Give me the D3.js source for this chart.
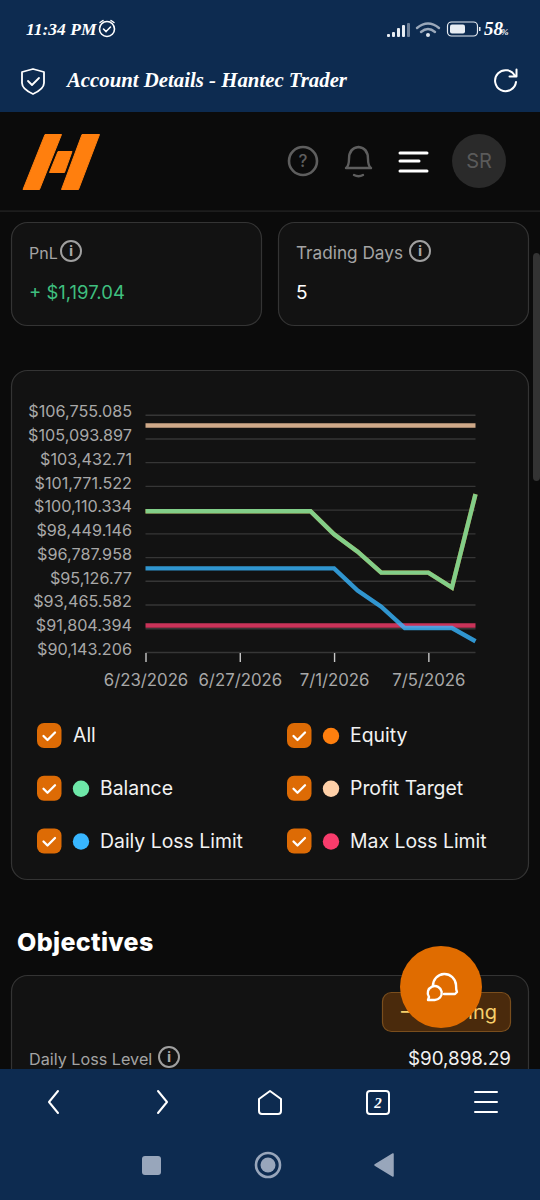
<!DOCTYPE html>
<html><head><meta charset="utf-8">
<script src="https://cdn.jsdelivr.net/npm/d3@7/dist/d3.min.js"></script>
<style>
html,body{margin:0;padding:0;background:#0b0b0b;width:540px;height:1200px;overflow:hidden}
svg{display:block}
text{font-family:"Inter","Noto Sans",sans-serif}
.script{font-family:"Liberation Serif",serif;font-style:italic;font-weight:700}
</style></head><body>
<svg id="page" width="540" height="1200" viewBox="0 0 540 1200"></svg>
<script>
const dates = ["2026-06-23","2026-06-24","2026-06-25","2026-06-26","2026-06-27","2026-06-28","2026-06-29","2026-06-30","2026-07-01","2026-07-02","2026-07-03","2026-07-04","2026-07-05","2026-07-06","2026-07-07"];
const equity = [100000,100000,100000,100000,100000,100000,100000,100000,98380,97170,95700,95700,95700,94650,101197.04];
const balance = [100000,100000,100000,100000,100000,100000,100000,100000,98380,97170,95700,95700,95700,94650,101197.04];
const dailyLossLimit = [96000,96000,96000,96000,96000,96000,96000,96000,96000,94440,93320,91820,91820,91820,90898.29];
const maxLossLimit = [92000,92000,92000,92000,92000,92000,92000,92000,92000,92000,92000,92000,92000,92000,92000];
const profitTarget = [106000,106000,106000,106000,106000,106000,106000,106000,106000,106000,106000,106000,106000,106000,106000];
const yTickValues = [90143.206,91804.394,93465.582,95126.77,96787.958,98449.146,100110.334,101771.522,103432.71,105093.897,106755.085];
const yTickLabels = ["$90,143.206","$91,804.394","$93,465.582","$95,126.77","$96,787.958","$98,449.146","$100,110.334","$101,771.522","$103,432.71","$105,093.897","$106,755.085"];
const xTickDates = ["2026-06-23","2026-06-27","2026-07-01","2026-07-05"];
const xTickLabels = ["6/23/2026","6/27/2026","7/1/2026","7/5/2026"];
const legendNames = ["All","Equity","Balance","Profit Target","Daily Loss Limit","Max Loss Limit"];
const legendColors = [null,"#ff7f0e","#6ee7a8","#ffd0a8","#38b6ff","#f83c6c"];

const svg = d3.select("#page");
const navy = "#0d2b50", cardFill = "#121212", cardLine = "#343434";
const W = "#ffffff";
function rect(x,y,w,h,fill,rx,stroke){const r=svg.append("rect").attr("x",x).attr("y",y).attr("width",w).attr("height",h).attr("fill",fill).attr("rx",rx||0);if(stroke)r.attr("stroke",stroke).attr("stroke-width",1.2);return r;}
function txt(x,y,s,size,fill,o={}){const t=svg.append("text").attr("x",x).attr("y",y).attr("font-size",size).attr("fill",fill).attr("text-anchor",o.anchor||"start").attr("font-weight",o.weight||400).text(s);if(o.cls)t.attr("class",o.cls);if(o.ls)t.attr("letter-spacing",o.ls);return t;}
function icon(d,stroke,sw,fill){return svg.append("path").attr("d",d).attr("fill",fill||"none").attr("stroke",stroke).attr("stroke-width",sw).attr("stroke-linecap","round").attr("stroke-linejoin","round");}
function circ(cx,cy,r,fill,stroke,sw){return svg.append("circle").attr("cx",cx).attr("cy",cy).attr("r",r).attr("fill",fill).attr("stroke",stroke||"none").attr("stroke-width",sw||0);}
function info(cx,cy){circ(cx,cy,10,"none","#a0a0a0",2);txt(cx,cy+5,"i",13,"#a8a8a8",{anchor:"middle",weight:800});}

// top app bar
rect(0,0,540,112,navy);
txt(26,35,"11:34 PM",17.5,W,{cls:"script"});
circ(107,29,7.5,"none",W,1.6);
icon("M103.5,29l2.6,2.6l4.4,-4.6M100,22.5l3,-2M114,22.5l-3,-2",W,1.5);
[[387,34,3],[392,32,5],[397,28,9],[402,25,12]].forEach(b=>rect(b[0],b[1],3,b[2],"#e8edf3",1));
rect(407,23,3,14,"#6d7f97",1);
icon("M417,28q11,-9 22,0M421,32q7,-6 14,0","#9aa8ba",2.4);
circ(428,35,2,"#dfe5ec");
rect(447.5,22,30,14,"none",4,"#e8edf3");
rect(450,24.5,15,9,"#e8edf3",2);
rect(479,27,1.5,4,"#e8edf3");
txt(484,35,"58",19,W,{cls:"script"});
txt(501,35,"%",9,W,{cls:"script"});
icon("M33,69l11,3v11q0,6 -11,11q-11,-5 -11,-11v-11z",W,1.8);
icon("M28,81l4,4l7,-7",W,1.8);
txt(67,87,"Account Details - Hantec Trader",20.8,W,{cls:"script"});
icon("M515,76a10.5,10.5 0 1 0 1,6M516.5,69.5v7h-7",W,2);

// site header
svg.append("path").attr("fill","#ff7f0e").attr("stroke","#ff7f0e").attr("stroke-width",1).attr("stroke-linejoin","round")
  .attr("d","M45,134.5h16.5l-22,55h-16.5zM82,134.5h17.5l-21,55h-17zM58,151.5h14l-7.5,21h-15z");
circ(303,161,14,"none","#5e5e5e",2.6);
txt(303,167,"?",17,"#5e5e5e",{anchor:"middle",weight:500});
icon("M346,168q3,-2 3,-9q0,-11 9.5,-12q9.5,1 9.5,12q0,7 3,9zM354,175q4.5,2.5 9,0","#5e5e5e",2.4);
icon("M400,153h27M400,161h19M400,171h27",W,3);
circ(479,161,27,"#2a2a2a");
txt(479,168,"SR",20,"#5a5a5a",{anchor:"middle"});
rect(0,210.5,540,1.2,"#262626");

// stat cards
rect(11.5,222.5,250,103,cardFill,16,cardLine);
rect(278.5,222.5,250,103,cardFill,16,cardLine);
txt(29,259,"PnL",16,"#a4a4a4");
info(71,251);
txt(29,299,"+ $1,197.04",18.5,"#3fbf7f");
txt(296,259,"Trading Days",17.2,"#a4a4a4");
info(420,251);
txt(296,299,"5",19,W);
rect(533,253,7,228,"#333333",4);

// chart card
rect(11.5,370.5,517,509,cardFill,16,cardLine);

const parse = d3.utcParse("%Y-%m-%d");
const x = d3.scaleUtc().domain([parse(dates[0]),parse(dates[dates.length-1])]).range([145.5,475.5]);
const y = d3.scaleLinear().domain([yTickValues[0],yTickValues[yTickValues.length-1]]).range([652,414.7]);

const yAxis = d3.axisLeft(y).tickValues(yTickValues).tickSize(0).tickPadding(13.5).tickFormat((d,i)=>yTickLabels[i]);
const gy = svg.append("g").attr("transform","translate(145.5,0)").call(yAxis);
gy.select(".domain").remove();
gy.selectAll("text").attr("font-size",16.2).attr("fill","#a8a8a8").attr("dy","0.14em").style("font-family","Inter");
gy.selectAll(".tick").append("line").attr("x1",0).attr("x2",330).attr("stroke","#363636").attr("stroke-width",1.4);

const xAxis = d3.axisBottom(x).tickValues(xTickDates.map(parse)).tickSize(9).tickPadding(12).tickFormat((d,i)=>xTickLabels[i]);
const gx = svg.append("g").attr("transform","translate(0,653)").call(xAxis);
gx.select(".domain").remove();
gx.selectAll("line").attr("stroke","#c8c8c8").attr("stroke-width",1.4);
gx.selectAll("text").attr("font-size",16.8).attr("fill","#a8a8a8").style("font-family","Inter");

const line = d3.line().x((d,i)=>x(parse(dates[i]))).y(d=>y(d));
[[equity,legendColors[1]],[balance,legendColors[2]],[profitTarget,legendColors[3]],[maxLossLimit,legendColors[5]],[dailyLossLimit,legendColors[4]]]
 .forEach(s=>svg.append("path").attr("d",line(s[0])).attr("fill","none").attr("stroke",s[1]).attr("stroke-width",4.4).attr("stroke-opacity",0.8).attr("stroke-linejoin","miter"));

// legend
legendNames.forEach((name,i)=>{
  const col=i%2,row=Math.floor(i/2);
  const bx=col?287:37, cy=735.5+row*52.75;
  rect(bx,cy-12.5,24.5,25,"#dd6b05",7);
  icon(`M${bx+6.5},${cy+0.5}l4,4l7.5,-7.5`,W,2.3);
  let tx=bx+36;
  if(legendColors[i]){circ(bx+44,cy+0.5,8.2,legendColors[i]);tx=bx+63;}
  txt(tx,cy+6.5,name,19.4,"#f2f2f2");
});

// objectives
txt(17,951,"Objectives",25,W,{weight:800,ls:0.35});
rect(11.5,975.5,517,200,cardFill,16,cardLine);
rect(382.5,992.5,128,39,"#4a2a0c",9,"#7a4e1d");
txt(497,1019,"– Ongoing",20,"#f7cf6b",{anchor:"end"});
txt(29,1065,"Daily Loss Level",16.2,"#a4a4a4");
info(169,1057);
txt(511,1065,"$90,898.29",18.8,"#f2f2f2",{anchor:"end"});

// floating chat button
circ(441,987,41,"#e06c00");
icon("M433,986a11.5,11.5 0 0 1 23,-1q0,5 1,7l-2,2h-11",W,2.4);
icon("M428,1000l1,-3a7,7 0 1 1 5.5,3z",W,2.4,"#e06c00");

// browser nav
rect(0,1069,540,131,navy);
icon("M58,1091l-9,11l9,11M158,1091l9,11l-9,11",W,2);
icon("M259,1099l11,-8l11,8v12q0,3 -3,3h-16q-3,0 -3,-3z",W,2);
rect(367,1091,22,23,"none",3).attr("stroke",W).attr("stroke-width",2);
txt(378,1108,"2",15,W,{anchor:"middle",cls:"script"});
icon("M475,1092h22M475,1102h22M475,1112h22",W,2);
rect(142,1156,19,19,"#98a6bb",3);
circ(268,1165,12,"none","#98a6bb",2.6);
circ(268,1165,7.5,"#98a6bb");
icon("M375,1165l18,-11v22z","#98a6bb",1.5,"#98a6bb");
</script></body></html>
